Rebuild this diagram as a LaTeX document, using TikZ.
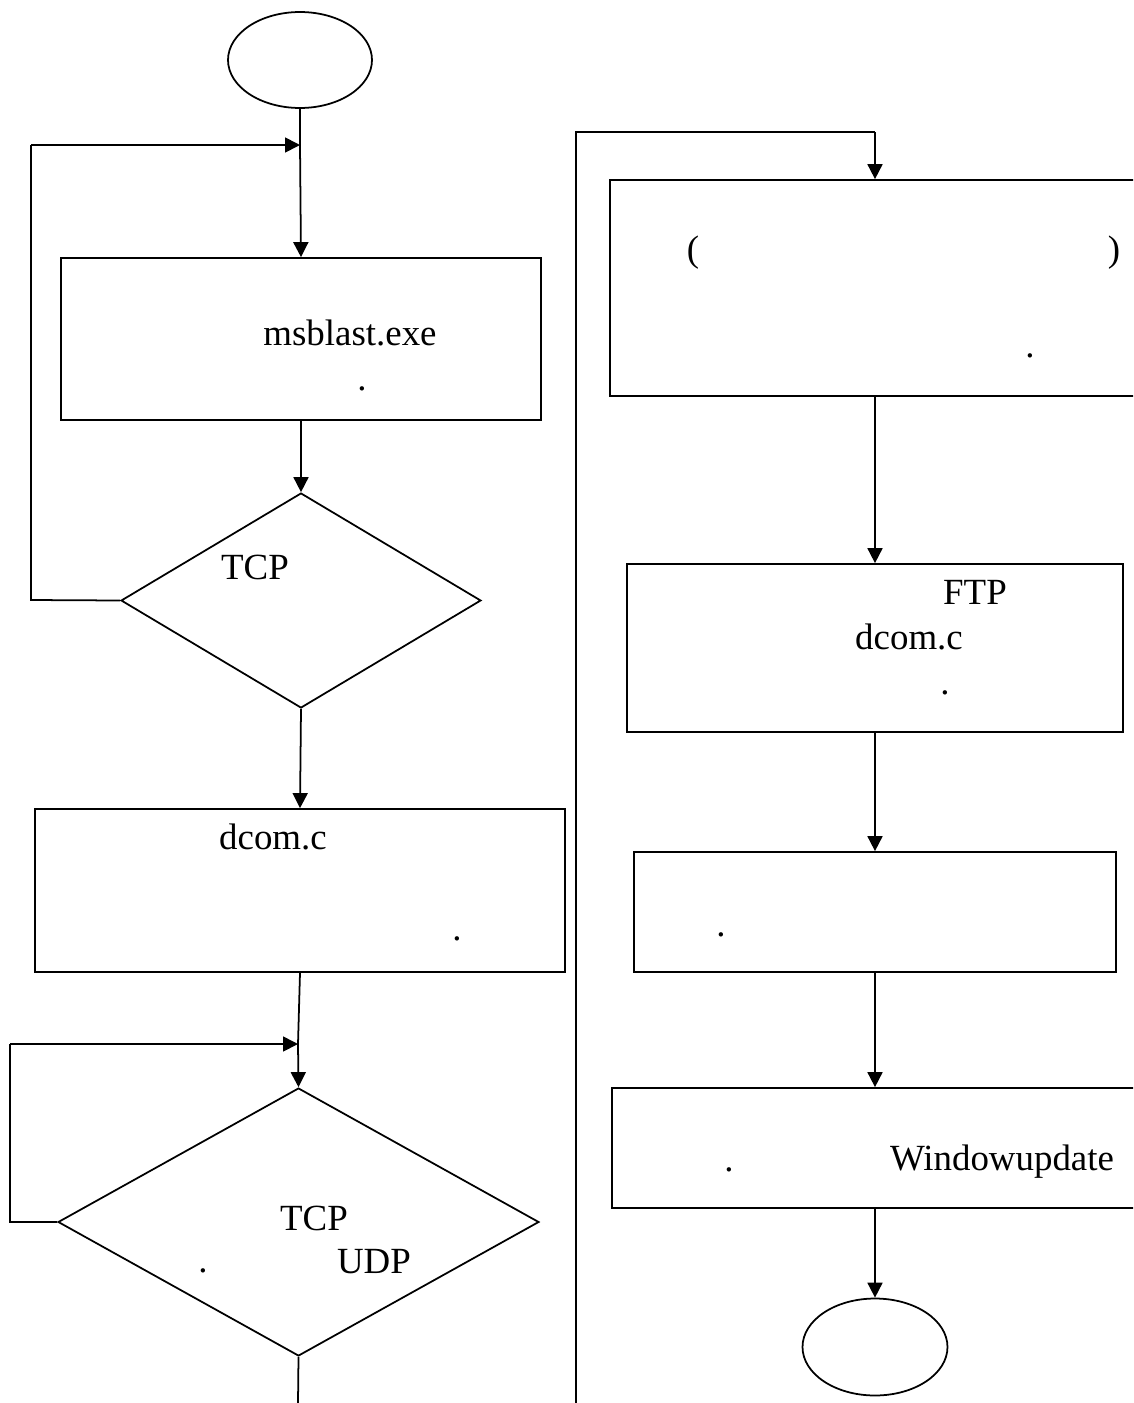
\documentclass[tikz,border=0pt]{standalone}
\usepackage{fontspec}
\setmainfont{Liberation Serif}
\usetikzlibrary{shapes.geometric,arrows.meta}

\begin{document}
\begin{tikzpicture}[x=0.02cm, y=-0.02cm, >={Triangle[length=0.3cm,width=0.3cm]}, line width=1pt,
	box/.style={draw, rectangle, inner sep=0pt},
	decision/.style={draw, diamond, inner sep=0pt},
	terminal/.style={draw, ellipse, inner sep=0pt},
	lbl/.style={inner sep=0pt, font=\fontsize{21}{25}\selectfont}]
	% 0. page frame (1133 x 1403 px)
	\useasboundingbox (0,0) rectangle (1133,1403);
	\clip (0,0) rectangle (1133,1403);
	
	% 1. left column shapes
	\node[terminal, minimum width=2.88cm, minimum height=1.92cm] (start) at (300,60) {};
	\node[box, minimum width=9.6cm, minimum height=3.24cm] (msblast) at (301,339) {};
	\node[decision, minimum width=7.2cm, minimum height=4.3cm] (tcpscan) at (301,600.5) {};
	\node[box, minimum width=10.6cm, minimum height=3.26cm] (dcomsend) at (300,890.5) {};
	\node[decision, minimum width=9.62cm, minimum height=5.36cm] (portcheck) at (298.5,1222) {};
	
	% 2. right column shapes (two boxes run past the right page edge)
	\node[box, minimum width=10.7cm, minimum height=4.32cm] (payload) at (877.5,288) {};
	\node[box, minimum width=9.92cm, minimum height=3.36cm] (ftpget) at (875,648) {};
	\node[box, minimum width=9.64cm, minimum height=2.4cm] (runworm) at (875,912) {};
	\node[box, minimum width=10.66cm, minimum height=2.4cm] (winupdate) at (878.5,1148) {};
	\node[terminal, minimum width=2.9cm, minimum height=1.94cm] (stop) at (875,1347) {};
	
	% 3. helper points for the loops and the column jump
	\coordinate (loopA) at (300,145);
	\coordinate (loopB) at (298,1044);
	\coordinate (jumpup) at (576,132);
	\coordinate (jumpin) at (875,132);
	
	% 4. left column connectors
	\draw (start) -- (loopA);
	\draw[->] (loopA) -- (msblast.north);
	\draw[->] (msblast) -- (tcpscan.north);
	\draw (tcpscan.west) -- (31,600) -- (31,145);
	\draw[->] (31,145) -- (loopA);
	\draw[->] (tcpscan.south) -- (dcomsend.north);
	\draw (dcomsend.south) -- (loopB);
	\draw[->] (loopB) -- (portcheck.north);
	\draw (portcheck.west) -- (10,1222) -- (10,1044);
	\draw[->] (10,1044) -- (loopB);
	\draw (portcheck.south) -- (298,1403);
	
	% 5. right column connectors
	\draw (576,1403) -- (jumpup) -- (jumpin);
	\draw[->] (jumpin) -- (jumpin |- payload.north);
	\draw[->] (jumpin |- payload.south) -- (ftpget.north);
	\draw[->] (ftpget) -- (runworm);
	\draw[->] (runworm.south) -- (runworm.south |- winupdate.north);
	\draw[->] (stop.north |- winupdate.south) -- (stop);
	
	% 6. texts as printed
	\node[lbl] (t1) at (350,333) {msblast.exe};
	\node[lbl] (d1) at (362,389) {.};
	\node[lbl] (t2) at (255,567) {TCP};
	\node[lbl] (t3) at (273,837) {dcom.c};
	\node[lbl] (d3) at (457,939) {.};
	\node[lbl] (t4) at (314,1218) {TCP};
	\node[lbl] (t5) at (374,1262) {UDP};
	\node[lbl] (d4) at (203,1271) {.};
	\node[lbl] (p1) at (693,253) {(};
	\node[lbl] (p2) at (1114,253) {)};
	\node[lbl] (d5) at (1030,356) {.};
	\node[lbl] (t6) at (975,592) {FTP};
	\node[lbl] (t7) at (909,637) {dcom.c};
	\node[lbl] (d6) at (945,693) {.};
	\node[lbl] (d7) at (721,935) {.};
	\node[lbl] (d8) at (729,1170) {.};
	\node[lbl] (t8) at (1002,1162) {Windowupdate};
\end{tikzpicture}
\end{document}
